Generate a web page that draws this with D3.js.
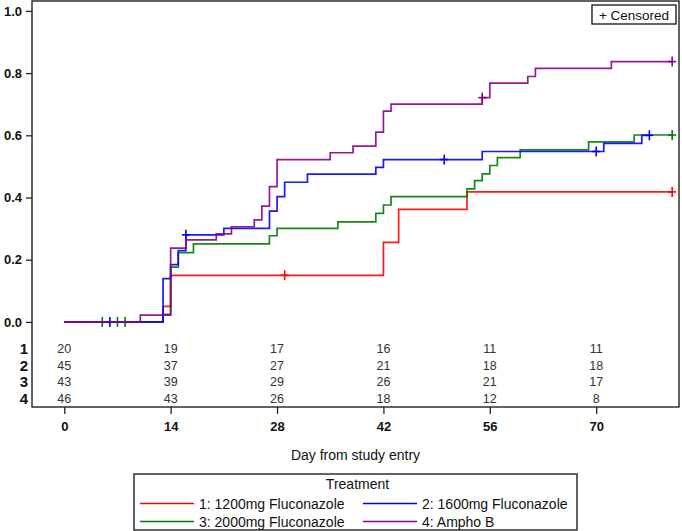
<!DOCTYPE html>
<html>
<head>
<meta charset="utf-8">
<script src="https://cdn.jsdelivr.net/npm/d3@7"></script>
<style>
  html, body { margin: 0; padding: 0; background: #ffffff; }
  svg { display: block; font-family: "Liberation Sans", Arial, sans-serif; }
</style>
</head>
<body>
<svg id="chart" width="682" height="531"></svg>
<script>
// ---------------- data ----------------
const groupLabels = ["1: 1200mg Fluconazole", "2: 1600mg Fluconazole", "3: 2000mg Fluconazole", "4: Ampho B"];
const groupIds = ["1", "2", "3", "4"];
const groupColors = ["#ff0000", "#0000ff", "#007a00", "#8b008b"];

// step times (days) and cumulative incidence after each step
const g1Times  = [0, 13, 14, 42, 44, 53];
const g1Values = [0, 0.05, 0.15, 0.256, 0.362, 0.418];
const g1Censor = [29, 80];

const g2Times  = [0, 13, 14, 15, 16, 21, 27, 28, 29, 32, 41, 42, 55, 71, 76];
const g2Values = [0, 0.139, 0.184, 0.229, 0.280, 0.301, 0.356, 0.403, 0.449, 0.475, 0.497, 0.522, 0.548, 0.574, 0.600];
const g2Censor = [6, 16, 50, 70, 77];

const g3Times  = [0, 13, 14, 15, 17, 27, 28, 36, 41, 42, 43, 53, 54, 55, 56, 57, 60, 69, 75];
const g3Values = [0, 0.024, 0.176, 0.223, 0.251, 0.277, 0.301, 0.322, 0.349, 0.376, 0.403, 0.428, 0.454, 0.476, 0.503, 0.528, 0.553, 0.579, 0.601];
const g3Censor = [5, 7, 8, 80];

const g4Times  = [0, 10, 14, 16, 20, 22, 25, 26, 27, 28, 35, 38, 41, 42, 43, 55, 56, 61, 62, 72];
const g4Values = [0, 0.022, 0.237, 0.264, 0.283, 0.306, 0.328, 0.372, 0.435, 0.522, 0.544, 0.565, 0.610, 0.678, 0.700, 0.721, 0.768, 0.789, 0.815, 0.837];
const g4Censor = [55, 80];

// number at risk
const riskDays = [0, 14, 28, 42, 56, 70];
const risk1 = [20, 19, 17, 16, 11, 11];
const risk2 = [45, 37, 27, 21, 18, 18];
const risk3 = [43, 39, 29, 26, 21, 17];
const risk4 = [46, 43, 26, 18, 12, 8];

const xTicks = [0, 14, 28, 42, 56, 70];
const yTicks = [0, 0.2, 0.4, 0.6, 0.8, 1.0];
const xTitle = "Day from study entry";
const legendTitle = "Treatment";
const censorLabel = "+ Censored";

// ---------------- build ----------------
const groups = [
  {times: g1Times, values: g1Values, censor: g1Censor, risk: risk1},
  {times: g2Times, values: g2Values, censor: g2Censor, risk: risk2},
  {times: g3Times, values: g3Values, censor: g3Censor, risk: risk3},
  {times: g4Times, values: g4Values, censor: g4Censor, risk: risk4}
].map((g, i) => ({...g, id: groupIds[i], label: groupLabels[i], color: groupColors[i]}));

const svg = d3.select("#chart");

const frame = {left: 32, right: 679, top: 1, bottom: 407};
const x = d3.scaleLinear().domain([-4.25, 80.9]).range([frame.left, frame.right]);
const y = d3.scaleLinear().domain([-0.2735, 1.0318]).range([frame.bottom, frame.top]);

// frame
svg.append("rect")
  .attr("x", frame.left).attr("y", frame.top)
  .attr("width", frame.right - frame.left).attr("height", frame.bottom - frame.top)
  .attr("fill", "none").attr("stroke", "#222").attr("stroke-width", 1.4);

// y axis
const yAxis = d3.axisLeft(y).tickValues(yTicks).tickFormat(d3.format(".1f")).tickSize(6).tickPadding(4);
const gy = svg.append("g").attr("transform", `translate(${frame.left},0)`).call(yAxis);
gy.select(".domain").remove();
gy.selectAll(".tick line").attr("stroke", "#222").attr("stroke-width", 1.3);
gy.selectAll(".tick text").attr("font-family", "Liberation Sans, Arial, sans-serif")
  .attr("font-size", 13).attr("font-weight", "bold").attr("fill", "#111");

// x axis
const xAxis = d3.axisBottom(x).tickValues(xTicks).tickFormat(d3.format("d")).tickSize(7).tickPadding(8);
const gx = svg.append("g").attr("transform", `translate(0,${frame.bottom})`).call(xAxis);
gx.select(".domain").remove();
gx.selectAll(".tick line").attr("stroke", "#222").attr("stroke-width", 1.3);
gx.selectAll(".tick text").attr("font-family", "Liberation Sans, Arial, sans-serif")
  .attr("font-size", 13).attr("font-weight", "bold").attr("fill", "#111");

// x title
svg.append("text")
  .attr("x", (frame.left + frame.right) / 2).attr("y", 460)
  .attr("text-anchor", "middle").attr("font-size", 14).attr("fill", "#111")
  .text(xTitle);

// curves
const line = d3.line().curve(d3.curveStepAfter).x(d => x(d[0])).y(d => y(d[1]));
function valueAt(g, t) {
  let v = 0;
  for (let i = 0; i < g.times.length; i++) if (g.times[i] <= t) v = g.values[i];
  return v;
}
const drawOrder = [0, 2, 1, 3];
drawOrder.forEach(i => {
  const g = groups[i];
  const endT = d3.max(g.censor.concat(g.times));
  const pts = g.times.map((t, k) => [t, g.values[k]]);
  pts.push([endT, valueAt(g, endT)]);
  svg.append("path").datum(pts)
    .attr("d", line).attr("fill", "none")
    .attr("stroke", g.color).attr("stroke-width", 1.7).attr("stroke-opacity", 0.9);
  // censor marks
  const cg = svg.append("g");
  g.censor.forEach(t => {
    const cx = x(t), cy = y(valueAt(g, t));
    cg.append("line").attr("x1", cx).attr("x2", cx).attr("y1", cy - 5).attr("y2", cy + 5)
      .attr("stroke", g.color).attr("stroke-width", 1.6);
    cg.append("line").attr("x1", cx - 4).attr("x2", cx + 4).attr("y1", cy).attr("y2", cy)
      .attr("stroke", g.color).attr("stroke-width", 1.6);
  });
});

// censored legend box
svg.append("rect").attr("x", 592).attr("y", 5).attr("width", 84).attr("height", 19)
  .attr("fill", "#fff").attr("stroke", "#111").attr("stroke-width", 1.3);
svg.append("text").attr("x", 634).attr("y", 19.5).attr("text-anchor", "middle")
  .attr("font-size", 13.5).attr("fill", "#111").text(censorLabel);

// at-risk table
const rowY = [348.5, 365, 381.5, 398.5];
groups.forEach((g, i) => {
  svg.append("text").attr("x", 28).attr("y", rowY[i] + 5.5)
    .attr("text-anchor", "end").attr("font-size", 15).attr("font-weight", "bold")
    .attr("fill", "#111").text(g.id);
  svg.append("g").selectAll("text").data(riskDays).join("text")
    .attr("x", d => x(d)).attr("y", rowY[i] + 4.5)
    .attr("text-anchor", "middle").attr("font-size", 12.5).attr("fill", "#333")
    .text((d, k) => g.risk[k]);
});

// legend
const leg = {left: 134, right: 577, top: 474, bottom: 530};
svg.append("rect").attr("x", leg.left).attr("y", leg.top)
  .attr("width", leg.right - leg.left).attr("height", leg.bottom - leg.top)
  .attr("fill", "#fff").attr("stroke", "#222").attr("stroke-width", 1.4);
svg.append("text").attr("x", (leg.left + leg.right) / 2 + 2).attr("y", 489)
  .attr("text-anchor", "middle").attr("font-size", 14).attr("fill", "#111").text(legendTitle);
const legPos = [
  {lx: 140, ly: 503.5}, {lx: 363, ly: 503.5},
  {lx: 140, ly: 521.5}, {lx: 363, ly: 521.5}
];
groups.forEach((g, i) => {
  const p = legPos[i];
  svg.append("line").attr("x1", p.lx).attr("x2", p.lx + 54).attr("y1", p.ly).attr("y2", p.ly)
    .attr("stroke", g.color).attr("stroke-width", 1.4);
  svg.append("text").attr("x", p.lx + 59).attr("y", p.ly + 5)
    .attr("font-size", 14).attr("fill", "#111").text(g.label);
});
</script>
</body>
</html>
